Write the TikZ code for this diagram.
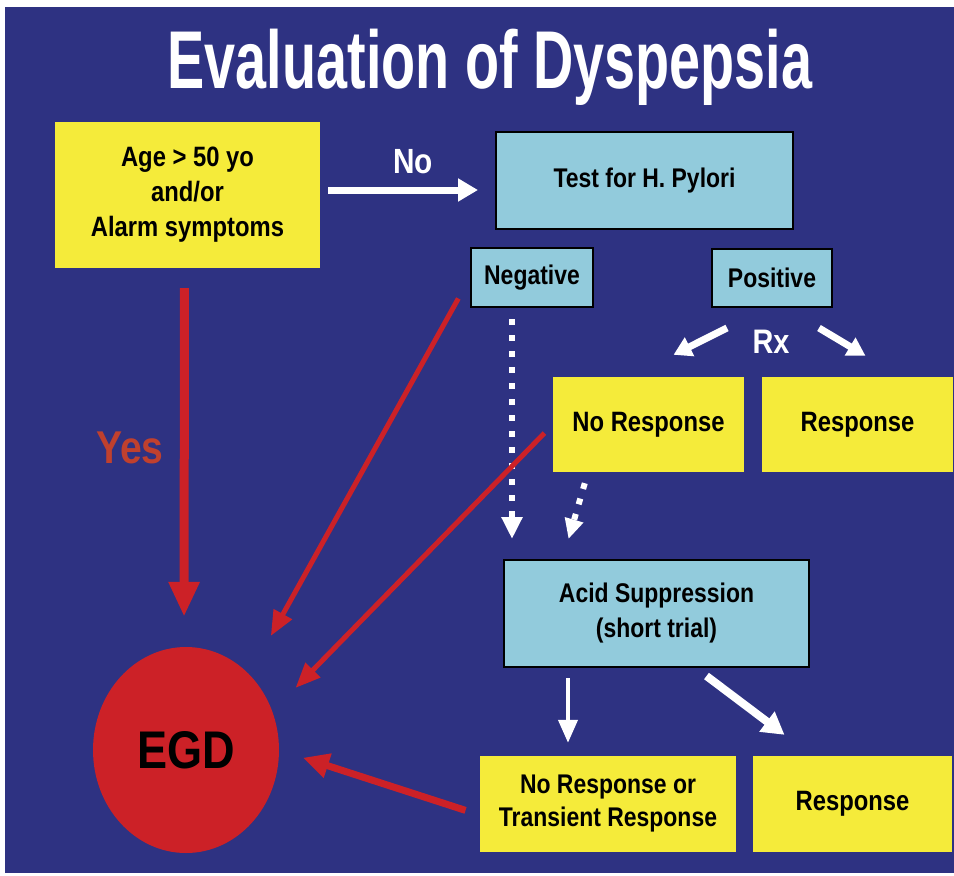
\documentclass[tikz,border=0pt]{standalone}
\RequirePackage{fontspec}
\RequirePackage{xcolor}
\RequirePackage{tikz}
\usetikzlibrary{arrows.meta, shapes.geometric}

\setmainfont[FakeStretch=0.85]{Liberation Sans}
\newfontfamily\titlefont[FakeStretch=0.68]{Liberation Sans}

\definecolor{SlideBlue}{RGB}{46, 50, 130}
\definecolor{BoxYellow}{RGB}{245, 235, 58}
\definecolor{BoxCyan}{RGB}{146, 203, 220}
\definecolor{ArrowRed}{RGB}{204, 33, 39}
\definecolor{YesRed}{RGB}{192, 64, 46}

\begin{document}
\begin{tikzpicture}[x=1pt, y=-1pt,
    yellowbox/.style={fill=BoxYellow, inner sep=0pt, align=center, font=\fontsize{28}{35}\selectfont\bfseries},
    cyanbox/.style={fill=BoxCyan, draw=black, line width=2pt, inner sep=0pt, align=center, font=\fontsize{27}{35}\selectfont\bfseries},
    redarrow/.style={draw=ArrowRed, line width=5pt, -{Triangle[width=20pt, length=25pt]}},
    whitearrow/.style={draw=white, line width=7pt, -{Triangle[width=22pt, length=20pt]}},
    dotarrow/.style={draw=white, line width=6pt, dash pattern=on 6pt off 10pt, -{Triangle[width=20pt, length=22pt]}}]
    \useasboundingbox (0, 0) rectangle (954, 876);
    \fill[white] (0, 0) rectangle (954, 876);
    \fill[SlideBlue] (5, 7) rectangle (954, 873);

    \node[anchor=base, text=white, font=\titlefont\fontsize{82}{82}\selectfont\bfseries] (title) at (490, 88) {Evaluation of Dyspepsia};

    \node[yellowbox, minimum width=265, minimum height=146] (age) at (187.5, 195) {Age > 50 yo\\and/or\\Alarm symptoms};
    \node[cyanbox, minimum width=297, minimum height=97] (test) at (644.5, 180.5) {Test for H. Pylori};
    \node[cyanbox, minimum width=122, minimum height=59] (neg) at (532, 277.5) {Negative};
    \node[cyanbox, minimum width=120, minimum height=58] (pos) at (772, 278) {Positive};
    \node[yellowbox, minimum width=191, minimum height=95] (nores) at (648.5, 424.5) {No Response};
    \node[yellowbox, minimum width=191, minimum height=95] (res1) at (857.5, 424.5) {Response};
    \node[cyanbox, minimum width=305, minimum height=107] (acid) at (656.5, 613.5) {Acid Suppression\\(short trial)};
    \node[yellowbox, font=\fontsize{27}{33}\selectfont\bfseries, minimum width=256, minimum height=96] (nort) at (608, 804) {No Response or\\Transient Response};
    \node[yellowbox, minimum width=199, minimum height=96] (res2) at (852.5, 804) {Response};
    \node[ellipse, fill=ArrowRed, inner sep=0pt, minimum width=186, minimum height=206, font=\fontsize{53}{53}\selectfont\bfseries] (egd) at (186, 750) {EGD};

    \node[anchor=base, text=white, font=\fontsize{35}{35}\selectfont\bfseries] (no) at (413, 173) {No};
    \node[anchor=base, text=white, font=\fontsize{34}{34}\selectfont\bfseries] (rx) at (771, 353) {Rx};
    \node[anchor=base, text=YesRed, font=\fontsize{46}{46}\selectfont\bfseries] (yes) at (130, 463) {Yes};

    \draw[whitearrow, shorten <=8pt, shorten >=17pt] ([yshift=5pt]age.east) -- ([yshift=5pt]age.east -| test.west);
    \draw[dotarrow, shorten <=11pt, shorten >=20pt] ([xshift=-20pt]neg.south) -- ([xshift=-20pt]neg.south |- acid.north);
    \draw[dotarrow, -{Triangle[width=18pt, length=20pt]}] ([shift={(32, 11)}]nores.south west) -- ([shift={(-88, -20)}]acid.north);
    \draw[whitearrow, -{Triangle[width=20pt, length=18pt]}] ([shift={(16, 20)}]pos.south west) -- ([shift={(25, -22)}]nores.north);
    \draw[whitearrow, -{Triangle[width=20pt, length=18pt]}] ([shift={(-14, 20)}]pos.south east) -- ([shift={(8, -21)}]res1.north);
    \draw[whitearrow, line width=4pt, -{Triangle[width=19pt, length=23pt]}, shorten <=10pt, shorten >=13pt] ([xshift=65pt]acid.south west) -- ([xshift=65pt]acid.south west |- nort.north);
    \draw[whitearrow, line width=8pt, -{Triangle[width=24pt, length=22pt]}] ([shift={(50, 8)}]acid.south) -- ([shift={(-68, -21)}]res2.north);

    \draw[redarrow, line width=9pt, -{Triangle[width=29pt, length=35pt]}, shorten <=20pt, shorten >=30pt] ([xshift=-3pt]age.south) -- ([xshift=-2pt]egd.north);
    \draw[redarrow, shorten <=24pt, shorten >=44pt] (neg.west) -- (egd.50);
    \draw[redarrow, shorten <=12pt, shorten >=33pt] (nores.west) -- (egd.24);
    \draw[redarrow, line width=7pt, -{Triangle[width=24pt, length=26pt]}, shorten <=15pt, shorten >=25pt] ([yshift=-11pt]nort.west) -- (egd.east);
\end{tikzpicture}
\end{document}
